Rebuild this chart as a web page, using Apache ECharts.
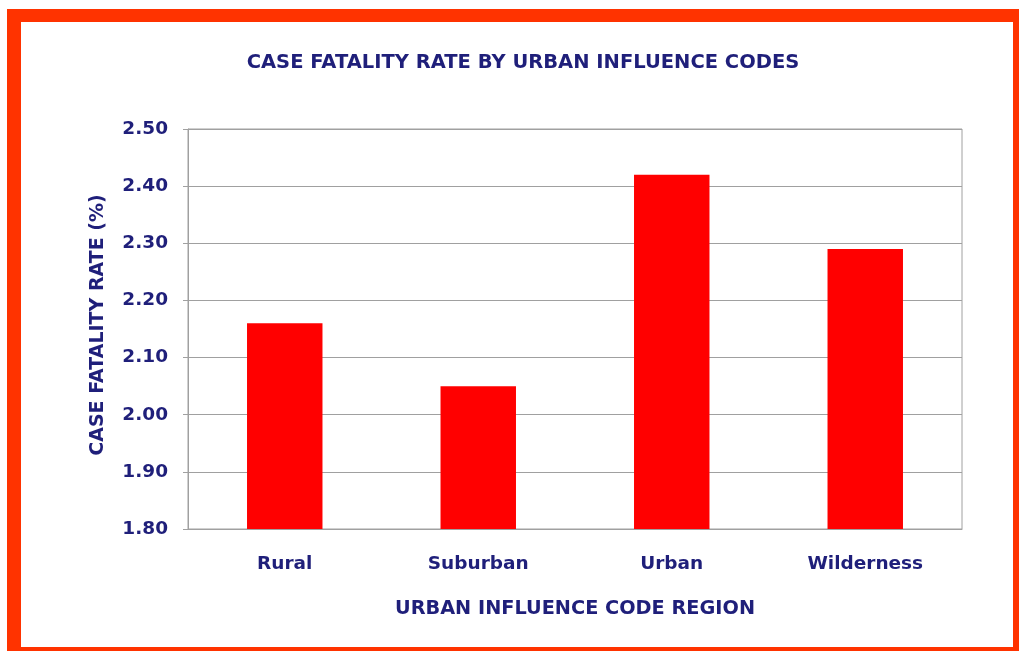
<!DOCTYPE html>
<html>
<head>
<meta charset="utf-8">
<script src="https://cdn.jsdelivr.net/npm/echarts@6/dist/echarts.min.js"></script>
<style>
  html, body { margin: 0; padding: 0; background: #ffffff; }
  #chart { width: 1019px; height: 651px; }
</style>
</head>
<body>
<div id="chart"></div>
<script>
// Case fatality rate (%) by urban influence code region
const categories = ['Rural', 'Suburban', 'Urban', 'Wilderness'];
const fatalityRates = [2.16, 2.05, 2.42, 2.29];
const yTicks = { min: 1.8, max: 2.5, step: 0.1 };

const navy = '#1f1f7a';
const frameRed = '#ff3300';
const gridGray = '#a0a0a0';
const fontFamily = 'DejaVu Sans, Verdana, sans-serif';

const chart = echarts.init(document.getElementById('chart'), null, { renderer: 'canvas' });

chart.setOption({
  backgroundColor: '#ffffff',
  animation: false,
  title: {
    text: 'CASE FATALITY RATE BY URBAN INFLUENCE CODES',
    left: 518,
    textAlign: 'center',
    top: 48,
    textStyle: { color: navy, fontFamily, fontWeight: 'bold', fontSize: 19.5 }
  },
  // orange-red picture frame
  graphic: [
    { type: 'rect', shape: { x: 7, y: 9, width: 14, height: 642 }, style: { fill: frameRed }, silent: true },
    { type: 'rect', shape: { x: 7, y: 9, width: 1012, height: 13 }, style: { fill: frameRed }, silent: true },
    { type: 'rect', shape: { x: 1013, y: 9, width: 6, height: 642 }, style: { fill: frameRed }, silent: true },
    { type: 'rect', shape: { x: 7, y: 647, width: 1012, height: 4 }, style: { fill: frameRed }, silent: true }
  ],
  grid: {
    left: 188, right: 57, top: 129, bottom: 122,
    show: true, borderColor: gridGray, borderWidth: 1, backgroundColor: 'transparent'
  },
  xAxis: {
    type: 'category',
    data: categories,
    name: 'URBAN INFLUENCE CODE REGION',
    nameLocation: 'middle',
    nameGap: 70,
    nameTextStyle: { color: navy, fontFamily, fontWeight: 'bold', fontSize: 19.3 },
    axisLine: { show: true, lineStyle: { color: gridGray, width: 1 } },
    axisTick: { show: false },
    axisLabel: { color: navy, fontFamily, fontWeight: 'bold', fontSize: 18.5, margin: 26 }
  },
  yAxis: {
    type: 'value',
    min: yTicks.min,
    max: yTicks.max,
    interval: yTicks.step,
    name: 'CASE FATALITY RATE (%)',
    nameLocation: 'middle',
    nameGap: 80,
    nameTextStyle: { color: navy, fontFamily, fontWeight: 'bold', fontSize: 19, padding: [0, 0, 0, 8] },
    axisLine: { show: true, lineStyle: { color: gridGray, width: 1 } },
    axisTick: { show: true, inside: false, length: 5, lineStyle: { color: gridGray } },
    splitLine: { show: true, lineStyle: { color: gridGray, width: 1 } },
    axisLabel: {
      color: navy, fontFamily, fontWeight: 'bold', fontSize: 18.5, margin: 20,
      formatter: v => v.toFixed(2)
    }
  },
  series: [{
    type: 'bar',
    data: fatalityRates,
    barWidth: '39%',
    itemStyle: { color: '#ff0000' }
  }]
});
</script>
</body>
</html>
